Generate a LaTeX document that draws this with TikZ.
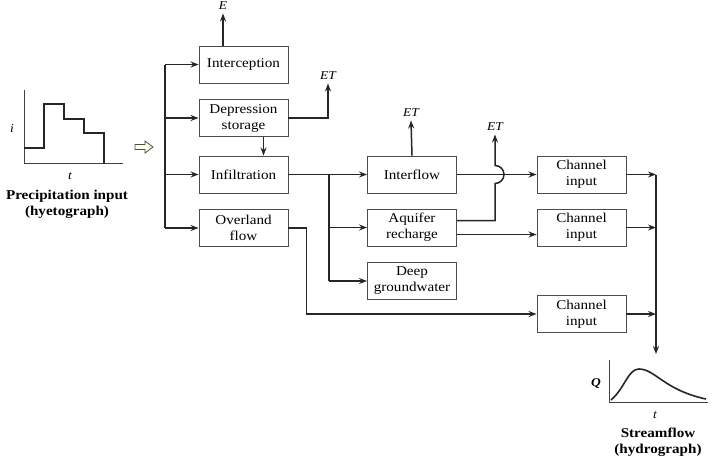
\documentclass[tikz,border=0pt]{standalone}
\usepackage{fontspec}
\setmainfont{Liberation Serif}
\newfontfamily\boxfont[FakeStretch=1.12]{Liberation Serif}
\usetikzlibrary{arrows.meta}

\begin{document}
\begin{tikzpicture}[
    x=1pt, y=1pt,
    font=\boxfont\fontsize{13.5}{16}\selectfont,
    box/.style={
        draw=black!70,
        line width=0.9pt,
        align=center,
        minimum width=89pt,
        minimum height=37pt,
        inner sep=2pt
    },
    arrow/.style={-{Stealth[length=8pt,width=6pt]}, line width=1.5pt, black!85},
    line/.style={line width=1.5pt, black!85},
    hollow/.style={draw=black!70, fill=yellow!12, line width=0.8pt},
    lbl/.style={font=\boxfont\fontsize{12}{14}\selectfont\itshape},
    title/.style={font=\boxfont\fontsize{13.5}{16}\selectfont\bfseries, align=center}
]
\useasboundingbox (0,0) rectangle (715,-459);

% ---------------------------------------------------------------------------
% Hyetograph (input)
% ---------------------------------------------------------------------------
\draw[line width=0.9pt, black!75] (24,-90) -- (24,-163) -- (123,-163);
\draw[line width=1.6pt, black!85] (24,-148) -- (44,-148) -- (44,-104) -- (64,-104)
    -- (64,-119) -- (84,-119) -- (84,-133) -- (104,-133) -- (104,-163);
\node[lbl] (iax) at (12,-129) {i};
\node[lbl] (tax1) at (70,-176) {t};
\node[title] (hyettitle) at (67,-204) {Precipitation input\\(hyetograph)};
\coordinate (hyetout) at (135,-147);

% Hollow input arrow
\draw[hollow] (hyetout) ++(0,2.5) -- ++(10,0) -- ++(0,3.5) -- ++(8,-6)
    -- ++(-8,-6) -- ++(0,3.5) -- ++(-10,0) -- cycle;

% ---------------------------------------------------------------------------
% Tier 1 -- surface split
% ---------------------------------------------------------------------------
\node[box] (intercept) at (243.5,-64.5) {Interception};
\node[box] (depress) at (243.5,-118) {Depression\\storage};
\node[box] (infil) at (243.5,-174.5) {Infiltration};
\node[box] (overland) at (243.5,-228) {Overland\\flow};

\coordinate (trunk) at (165,-64.5);
\draw[line] (trunk) -- (trunk |- overland);
\draw[arrow] (trunk) -- (intercept.west);
\draw[arrow] (trunk |- depress) -- (depress.west);
\draw[arrow] (trunk |- infil) -- (infil.west);
\draw[arrow] (trunk |- overland) -- (overland.west);

% Losses
\node[lbl] (evap) at (223,-6) {E};
\node[lbl] (et1) at (328,-76) {ET};
\draw[arrow] (intercept.north -| evap) -- (evap.south);
\draw[arrow] (depress.east) -| (et1.south);
\draw[arrow] ([xshift=20pt]depress.south) -- ([xshift=20pt]infil.north);

% ---------------------------------------------------------------------------
% Tier 2 -- subsurface
% ---------------------------------------------------------------------------
\node[box] (interflow) at (412,-174.5) {Interflow};
\node[box] (aquifer) at (412,-227.5) {Aquifer\\recharge};
\node[box] (deep) at (412,-281) {Deep\\groundwater};

\coordinate (branch) at (329,-174.5);
\draw[arrow] (infil.east) -- (interflow.west);
\draw[line] (branch) -- (branch |- deep);
\draw[arrow] (branch |- aquifer) -- (aquifer.west);
\draw[arrow] (branch |- deep) -- (deep.west);

\node[lbl] (et2) at (411,-113) {ET};
\node[lbl] (et3) at (495,-127) {ET};
\draw[arrow] (interflow.north) -- (et2.south);

% ---------------------------------------------------------------------------
% Tier 3 -- channel
% ---------------------------------------------------------------------------
\node[box] (chan1) at (581.5,-174.5) {Channel\\input};
\node[box] (chan2) at (581.5,-227.5) {Channel\\input};
\node[box] (chan3) at (581.5,-314) {Channel\\input};

\coordinate (hop) at (495,-174.5);
\draw[arrow] (interflow.east) -- (chan1.west);
\draw[arrow] ([yshift=7pt]aquifer.east) -| ([yshift=-9pt]hop)
    arc[start angle=-90, end angle=90, radius=9pt] -- (et3.south);
\draw[arrow] ([yshift=-7pt]aquifer.east) -- ([yshift=-7pt]chan2.west);
\draw[arrow] (overland.east) -- ++(18,0) |- (chan3.west);

% Channel to outlet
\coordinate (outlet) at (656,-174.5);
\coordinate (outlet end) at (656,-354);
\draw[arrow] (chan1.east) -- (outlet);
\draw[arrow] (chan2.east) -- (outlet |- chan2);
\draw[arrow] (chan3.east) -- (outlet |- chan3);
\draw[arrow] (outlet) -- (outlet end);

% ---------------------------------------------------------------------------
% Hydrograph (output)
% ---------------------------------------------------------------------------
\draw[line width=0.9pt, black!75] (609,-360) -- (609,-402) -- (708,-402);
\draw[line width=1.6pt, black!85] (611,-400) .. controls (625,-388) and (628,-369) .. (639,-369)
    .. controls (655,-369) and (664,-390) .. (706,-399);
\node[lbl, font=\boxfont\fontsize{12}{14}\selectfont\bfseries\itshape] (qax) at (596,-383) {Q};
\node[lbl] (tax2) at (655,-415) {t};
\node[title] (hydrotitle) at (658,-442) {Streamflow\\(hydrograph)};

\end{tikzpicture}
\end{document}
